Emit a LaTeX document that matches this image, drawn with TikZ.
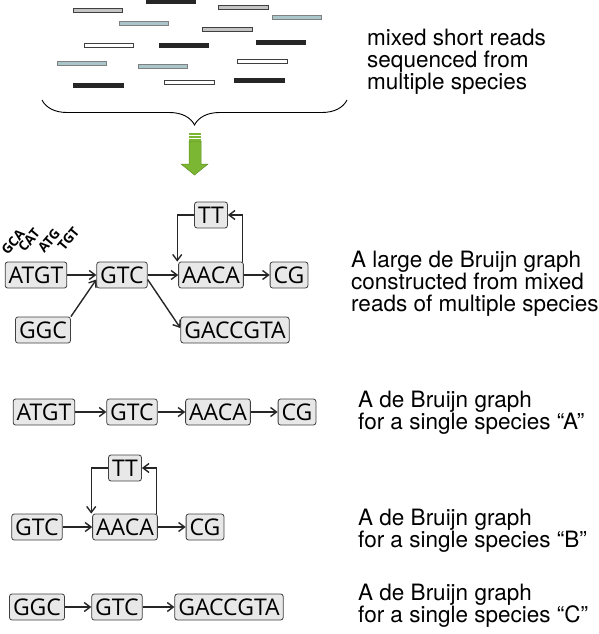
\documentclass[tikz,border=0pt]{standalone}
\usepackage{fontspec}
\setmainfont{TeX Gyre Heros}
\newfontfamily\kmerfont{Open Sans}
\usepackage{tikz}
\usetikzlibrary{arrows.meta,decorations.pathreplacing}

\definecolor{readgray}{HTML}{C4C4C4}
\definecolor{readblue}{HTML}{A9C6CA}
\definecolor{arrowgreen}{HTML}{7CB733}
\definecolor{arrowdark}{HTML}{5E8E22}

\tikzset{
  kmer/.style={draw=black!75, fill=black!9, rounded corners=2.5pt, line width=0.8pt,
    inner xsep=3.5pt, inner ysep=0pt, minimum height=26pt,
    font=\kmerfont\fontsize{23}{23}\selectfont},
  edge/.style={line width=1.4pt, draw=black!85, -{Straight Barb[length=6pt,width=9pt]}},
  overlap/.style={rotate=50, inner sep=0pt, font=\kmerfont\bfseries\fontsize{13.5}{13.5}\selectfont},
  caption/.style={anchor=north west, align=left, inner sep=0pt,
    font=\fontsize{22.5}{22}\selectfont},
  rdark/.style={draw=black!85, fill=black!85, line width=0.6pt},
  rgray/.style={draw=black!75, fill=readgray, line width=0.8pt},
  rblue/.style={draw=black!50, fill=readblue, line width=0.8pt},
  rwhite/.style={draw=black!75, fill=white, line width=0.8pt}
}

\begin{document}
\begin{tikzpicture}[x=1pt, y=-1pt]
\useasboundingbox (0,0) rectangle (598,634);

% short reads
\draw[rgray]  (73,8) rectangle (122,12);
\draw[rdark]  (146,0) rectangle (195,3.5);
\draw[rgray]  (218,5) rectangle (268,9);
\draw[rblue]  (272,15.5) rectangle (321,19.5);
\draw[rblue]  (119,21.5) rectangle (168,25.5);
\draw[rgray]  (202,27) rectangle (252,31);
\draw[rwhite] (84,43) rectangle (133,47);
\draw[rdark]  (159,43) rectangle (208,47);
\draw[rdark]  (256,40) rectangle (305,44);
\draw[rblue]  (57,61.5) rectangle (106,65.5);
\draw[rblue]  (138,64.5) rectangle (187,68.5);
\draw[rwhite] (237,59) rectangle (287,63);
\draw[rdark]  (73,83) rectangle (123,87);
\draw[rwhite] (164,80) rectangle (214,84);
\draw[rdark]  (234,78) rectangle (284,82);

\draw[line width=0.9pt, decorate, decoration={brace, mirror, amplitude=25pt}] (42,100) -- (347,100);

\node[caption] (readstext) at (367,28.5) {mixed short reads\\sequenced from\\multiple species};

% green arrow
\draw[arrowdark, fill=arrowgreen, line width=0.5pt] (189,141) -- (201,141) -- (201,164) -- (208,164)
  -- (194.5,175) -- (181,164) -- (189,164) -- cycle;
\fill[arrowgreen] (189,132.5) rectangle (201,134.5);
\fill[arrowgreen] (189,135.5) rectangle (201,137.5);
\fill[arrowgreen] (189,138.5) rectangle (201,140.5);

% large graph
\node[kmer] (atgt1) at (36,275) {ATGT};
\node[kmer] (gtc1) at (122,275) {GTC};
\node[kmer] (aaca1) at (211,275) {AACA};
\node[kmer] (cg1) at (289,275) {CG};
\node[kmer] (tt1) at (211,215) {TT};
\node[kmer] (ggc1) at (43,330) {GGC};
\node[kmer] (gaccgta1) at (235,330) {GACCGTA};

\node[overlap] (ov1) at (13,242) {GCA};
\node[overlap] (ov2) at (29,240) {CAT};
\node[overlap] (ov3) at (49,241) {ATG};
\node[overlap] (ov4) at (68.5,239) {TGT};

\draw[edge] (atgt1) -- (gtc1);
\draw[edge] (ggc1.north east) -- (gtc1.190);
\draw[edge] (gtc1.-10) -- (gaccgta1.178);
\draw[edge] (gtc1) -- (aaca1);
\draw[edge] (aaca1) -- (cg1);
\draw[edge] ([xshift=-1pt]aaca1.north east) |- (tt1.east);
\draw[edge] (tt1.west) -| ([xshift=-1pt]aaca1.north west);

\node[caption] (largetext) at (351,250.5) {A large de Bruijn graph\\constructed from mixed\\reads of multiple species};

% species A
\node[kmer] (atgt2) at (44,412) {ATGT};
\node[kmer] (gtc2) at (132,412) {GTC};
\node[kmer] (aaca2) at (218,412) {AACA};
\node[kmer] (cg2) at (297,412) {CG};
\draw[edge] (atgt2) -- (gtc2);
\draw[edge] (gtc2) -- (aaca2);
\draw[edge] (aaca2) -- (cg2);
\node[caption] (atext) at (358,390.5) {A de Bruijn graph\\for a single species ``A''};

% species B
\node[kmer] (gtc3) at (37,527) {GTC};
\node[kmer] (aaca3) at (125,527) {AACA};
\node[kmer] (cg3) at (205,527) {CG};
\node[kmer] (tt3) at (125,468) {TT};
\draw[edge] (gtc3) -- (aaca3);
\draw[edge] (aaca3) -- (cg3);
\draw[edge] ([xshift=-1pt]aaca3.north east) |- (tt3.east);
\draw[edge] (tt3.west) -| ([xshift=-1pt]aaca3.north west);
\node[caption] (btext) at (358,508.5) {A de Bruijn graph\\for a single species ``B''};

% species C
\node[kmer] (ggc4) at (37,607) {GGC};
\node[kmer] (gtc4) at (117,607) {GTC};
\node[kmer] (gaccgta4) at (229,607) {GACCGTA};
\draw[edge] (ggc4) -- (gtc4);
\draw[edge] (gtc4) -- (gaccgta4);
\node[caption] (ctext) at (358,583.5) {A de Bruijn graph\\for a single species ``C''};
\end{tikzpicture}
\end{document}
